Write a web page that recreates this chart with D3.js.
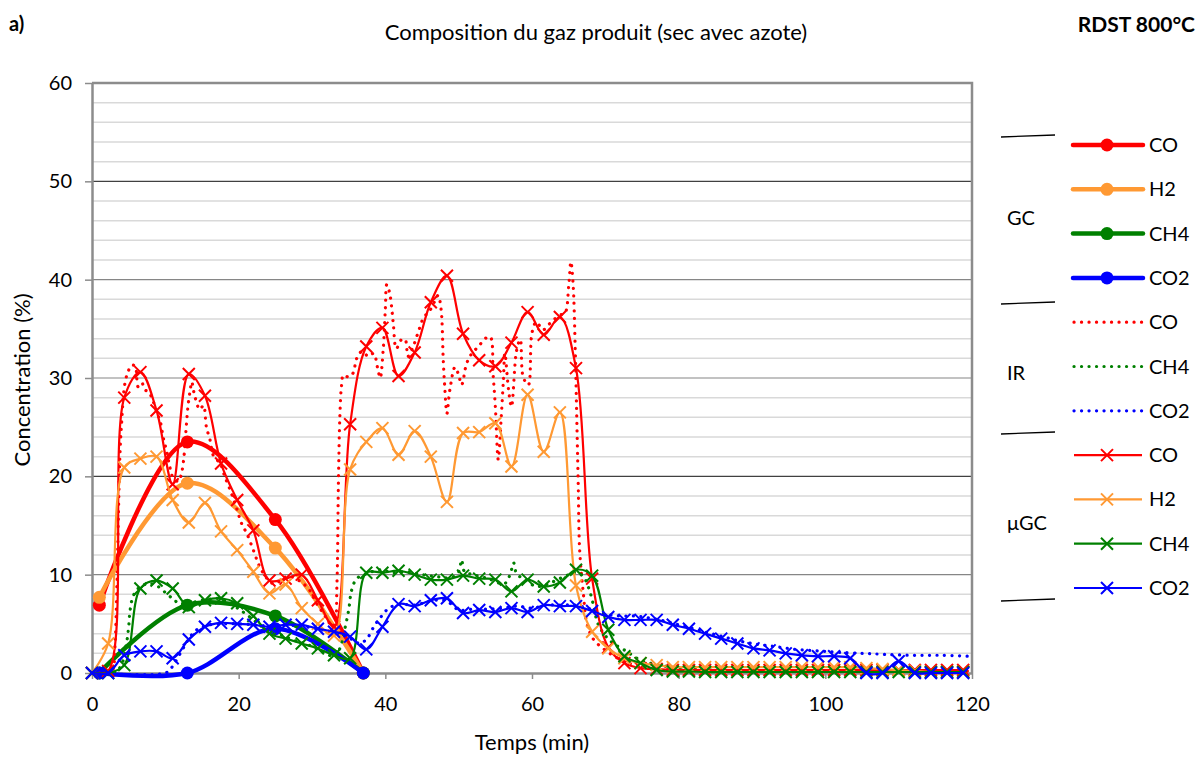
<!DOCTYPE html>
<html><head><meta charset="utf-8">
<script src="https://cdn.jsdelivr.net/npm/d3@7"></script>
<style>body{margin:0;background:#fff} text{font-family:Lato,'Open Sans',sans-serif;fill:#000}</style>
</head><body><svg id="c" width="1199" height="758"></svg>
<script>
// ---------- data ----------
const xTicks = [0, 20, 40, 60, 80, 100, 120];
const yTicks = [0, 10, 20, 30, 40, 50, 60];
const yMinor = [2,4,6,8,12,14,16,18,22,24,26,28,32,34,36,38,42,44,46,48,52,54,56,58];

// GC (thick lines, circles)
const gcTime = [1, 13, 25, 37];
const gcCO  = [6.9, 23.5, 15.6, 0];
const gcH2  = [7.7, 19.3, 12.7, 0];
const gcCH4 = [0, 6.9, 5.8, 0];
const gcCO2 = [0, 0, 4.5, 0];

// micro-GC (thin lines, x markers)
const muTime = [0,2.2,4.4,6.6,8.8,11,13.2,15.4,17.6,19.8,22,24.2,26.4,28.6,30.8,33,35.2,37.4,39.6,41.8,44,46.2,48.4,50.6,52.8,55,57.2,59.4,61.6,63.8,66,68.2,70.4,72.6,74.8,77,79.2,81.4,83.6,85.8,88,90.2,92.4,94.6,96.8,99,101.2,103.4,105.6,107.8,110,112.2,114.4,116.6,118.8];
const muCO  = [0,0.2,28.0,30.6,26.7,19.2,30.4,28.2,21.3,17.6,14.5,9.4,9.6,10.0,7.4,4.7,25.3,33.2,35.1,30.2,32.6,37.7,40.4,34.5,31.8,31.2,33.6,36.7,34.4,36.2,31.0,9.6,2.6,1.0,0.5,0.4,0.3,0.3,0.3,0.3,0.3,0.3,0.3,0.3,0.3,0.3,0.3,0.3,0.3,0.3,0.3,0.3,0.3,0.3,0.3];
const muH2  = [0,3.0,20.9,21.8,22.0,17.6,15.3,17.3,14.4,12.5,10.3,8.1,9.0,6.6,5.0,3.8,20.7,23.5,24.9,22.2,24.6,22.0,17.4,24.4,24.5,25.4,21.0,28.3,22.5,26.5,8.9,4.2,2.5,1.5,1.0,0.8,0.6,0.6,0.6,0.6,0.6,0.6,0.6,0.6,0.6,0.6,0.6,0.6,0.5,0.4,0.3,0.2,0.1,0.1,0.1];
const muCH4 = [0,0,0.8,8.6,9.4,8.6,6.7,7.4,7.6,7.1,5.8,4.0,3.5,3.0,2.5,1.8,1.5,10.2,10.2,10.4,10.0,9.5,9.5,9.9,9.6,9.5,8.3,9.5,8.8,9.2,10.5,9.9,4.4,1.7,1.0,0.3,0.15,0.15,0.1,0.1,0.1,0.1,0.1,0.1,0.1,0.1,0.1,0.1,0.1,0.1,0.1,0.1,0.1,0.1,0.1];
const muCO2 = [0,0,1.8,2.2,2.2,1.5,3.4,4.7,5.1,5.0,4.9,4.7,4.9,4.9,4.5,4.2,3.7,2.4,4.7,7.0,6.8,7.4,7.6,6.1,6.4,6.2,6.6,6.2,6.9,6.8,6.8,6.3,5.7,5.4,5.4,5.4,4.9,4.5,4.0,3.5,3.0,2.5,2.3,2.0,1.8,1.7,1.7,1.5,0,0,1.2,0,0,0,0];

// IR (dotted lines)
const irCOTime = [0,1,2,2.8,3.1,3.4,3.6,3.8,4.0,4.5,5.0,5.4,5.9,6.1,6.3,6.8,7.2,7.7,8.1,8.8,9.3,9.7,10.2,10.6,11.1,11.8,12.2,12.5,12.7,12.9,13.1,13.4,13.6,14.0,14.7,15.2,15.6,16.1,16.5,17.0,17.5,18.1,19.0,19.7,20.4,21.1,22,22.7,23.4,24.0,24.7,25.5,26.2,27,28,28.8,29.7,30.6,31.5,32.2,32.7,33.1,33.4,33.6,33.8,34.0,34.3,35.0,35.6,36.1,36.8,37.7,38.4,39.0,39.3,39.7,40.0,40.2,40.6,40.9,41.1,41.5,42.2,42.7,43.1,43.8,44.5,45.2,46.1,46.8,47.2,47.6,47.9,48.1,48.4,48.8,49.5,50.0,50.4,51.1,51.8,52.7,53.6,54.3,54.7,55.0,55.4,55.8,56.1,56.3,56.8,57.2,57.9,58.4,58.8,59.5,60.0,60.6,61.5,62.5,63.8,64.5,65.0,65.3,65.6,65.9,66.1,66.3,66.5,67.0,67.5,68.4,69.7,71,72.5,74,76,80,90,100,110,120];
const irCO     = [0,0,0,0.3,2.3,9,16,22,25,29.5,30.8,31.3,31.2,30,29.1,29.5,28.8,28.6,28.1,26.6,25.6,24,22.5,21,19.8,19.5,20.3,21.7,23.5,25.5,27.2,28.8,29.6,28.2,26.8,27.2,25,23.7,22.2,21.7,21.3,20,18.3,16.8,15.2,14.2,12.5,11.1,10.1,9.5,9.1,9.3,9.7,9.8,9.5,9.1,8.4,7.1,6.1,5.3,4.7,5,9,19.3,26.1,29,30.3,30.1,30.5,32,32.7,32.2,32.5,30.8,30,32.8,37,39.5,38.6,36.9,35.4,33,33.9,33.9,32.2,33.2,34.7,36.1,36.9,37.9,38.4,37,31.8,29.1,26.4,28.8,31.1,30.3,29.3,31.5,32.5,33.2,34,34.2,30.3,27.1,21.7,26,29.8,32.5,28.8,27.1,32.8,33.9,30.1,29.3,34.6,35.7,34.9,35.6,36.4,36.6,39.3,41.8,39.6,32.8,26.1,19.3,12.5,8.1,5,3.4,2.5,1.8,1.2,0.8,0.5,0.3,0.2,0.2,0.2,0.2];
const irCH4Time = [0,3,4,4.7,5.0,5.2,5.6,6.3,7.7,9,10.4,11.3,12,13,14,15,16,17,18,19,20,21,22,23,24,25,26,27,28,29,30,31,32,33,33.8,34.3,35,35.4,36.1,37.5,39.3,41,43,45,47,49,50,50.4,50.8,52,54,56.3,57.2,57.5,57.9,59,60.6,62,63.5,65,66,67,68,69,70,71.1,72.9,74.3,76.1,78,80,85,90,120];
const irCH4     = [0,0,0.8,3,4.7,6.4,7.8,8.6,9.1,8.8,7.9,7.4,6.8,6.8,7.2,7.4,7.5,7.6,7.4,7.1,6.5,6.0,5.4,4.8,4.3,4.0,3.8,3.5,3.2,3.0,2.7,2.3,2.0,1.6,2.5,3.9,6.4,8.4,9.6,10.1,10.5,10.2,10.3,10.0,9.8,9.7,10.3,11.5,10.3,10,9.6,9.1,10.5,11.2,10.1,9.5,8.8,9,9.5,10.0,10.2,9.8,8,5,3.8,3.0,2.2,1.5,1.0,0.7,0.5,0.3,0.2,0.2];
const irCO2Time = [0,10,10.8,11.5,12.5,13.5,14.5,16,18,20,22,24,26,28,30,32,34,35.5,36.5,37.5,38.5,39.5,40.5,42,44,46,48,49,50,52,54,56,58,60,62,64,66,68,70,72,74,76,78,80,82,84,86,88,90,92,94,96,98,100,102,105,108,112,116,120];
const irCO2     = [0,0,0.5,1.3,2.6,3.8,4.5,4.9,5.0,5.0,4.9,4.8,4.9,4.8,4.6,4.3,3.9,3.4,3.0,3.5,4.8,5.8,6.6,7.0,6.9,7.3,7.4,7.0,6.4,6.5,6.5,6.6,6.8,6.6,6.9,6.9,6.9,6.5,6.0,5.8,5.8,5.6,5.3,4.9,4.5,4.1,3.7,3.3,3.0,2.8,2.6,2.4,2.3,2.2,2.1,2.0,1.9,1.8,1.8,1.7];

const cRed = '#ff0000', cOrange = '#ff9933', cGreen = '#008000', cBlue = '#0000ff';
const FONT = "Lato,'Open Sans',sans-serif";

// ---------- chart ----------
const svg = d3.select('#c');
const x = d3.scaleLinear().domain([0, 120]).range([92, 972]);
const y = d3.scaleLinear().domain([0, 60]).range([673, 83]);

// minor gridlines
svg.append('g').selectAll('line').data(yMinor).join('line')
  .attr('x1', x(0)).attr('x2', x(120)).attr('y1', d => y(d)).attr('y2', d => y(d))
  .attr('stroke', '#d9d9d9').attr('stroke-width', 1.5);
// major gridlines
svg.append('g').selectAll('line').data(yTicks.filter(v => v > 0 && v < 60)).join('line')
  .attr('x1', x(0)).attr('x2', x(120)).attr('y1', d => y(d)).attr('y2', d => y(d))
  .attr('stroke', d => (d === 50 || d === 20) ? '#404040' : '#868686').attr('stroke-width', 1.2);
// plot border (top, right)
svg.append('path').attr('d', `M${x(0)},${y(60)}H${x(120)}V${y(0)}`)
  .attr('fill', 'none').attr('stroke', '#8c8c8c').attr('stroke-width', 2.5);

// axes
const yAxis = svg.append('g').attr('transform', `translate(${x(0)},0)`)
  .call(d3.axisLeft(y).tickValues(yTicks).tickSize(7).tickPadding(13).tickSizeOuter(0));
const xAxis = svg.append('g').attr('transform', `translate(0,${y(0)})`)
  .call(d3.axisBottom(x).tickValues(xTicks).tickSize(6).tickPadding(18).tickSizeOuter(0));
[xAxis, yAxis].forEach(a => {
  a.select('.domain').attr('stroke', '#8c8c8c').attr('stroke-width', 2.5);
  a.selectAll('.tick line').attr('stroke', '#8c8c8c').attr('stroke-width', 1.5);
  a.selectAll('.tick text').attr('font-size', 20).attr('font-family', FONT).attr('fill', '#000');
});

const curve = d3.curveCatmullRom.alpha(0.5);
const line = d3.line().x(d => x(d[0])).y(d => y(d[1])).curve(curve);
const plot = svg.append('g');

function gcSeries(vals, color) {
  const pts = d3.zip(gcTime, vals);
  plot.append('path').datum(pts).attr('d', line).attr('fill', 'none')
    .attr('stroke', color).attr('stroke-width', 4.5).attr('stroke-linejoin', 'round');
  plot.append('g').selectAll('circle').data(pts).join('circle')
    .attr('cx', d => x(d[0])).attr('cy', d => y(d[1])).attr('r', 6.5).attr('fill', color);
}
function irSeries(t, vals, color) {
  plot.append('path').datum(d3.zip(t, vals)).attr('d', line).attr('fill', 'none')
    .attr('stroke', color).attr('stroke-width', 3.2).attr('stroke-linecap', 'round')
    .attr('stroke-dasharray', '0.1 7.4');
}
const xMark = 'M-6,-6L6,6M-6,6L6,-6';
function muSeries(vals, color) {
  const pts = d3.zip(muTime, vals);
  plot.append('path').datum(pts).attr('d', line).attr('fill', 'none')
    .attr('stroke', color).attr('stroke-width', 2.2);
  plot.append('g').selectAll('path').data(pts).join('path')
    .attr('d', xMark).attr('transform', d => `translate(${x(d[0])},${y(d[1])})`)
    .attr('stroke', color).attr('stroke-width', 2).attr('fill', 'none');
}

gcSeries(gcCO, cRed); gcSeries(gcH2, cOrange); gcSeries(gcCH4, cGreen); gcSeries(gcCO2, cBlue);
irSeries(irCOTime, irCO, cRed); irSeries(irCH4Time, irCH4, cGreen); irSeries(irCO2Time, irCO2, cBlue);
muSeries(muCO, cRed); muSeries(muH2, cOrange); muSeries(muCH4, cGreen); muSeries(muCO2, cBlue);

// ---------- legend ----------
const legendItems = [
  {type:'gc', name:'CO', color:cRed}, {type:'gc', name:'H2', color:cOrange},
  {type:'gc', name:'CH4', color:cGreen}, {type:'gc', name:'CO2', color:cBlue},
  {type:'ir', name:'CO', color:cRed}, {type:'ir', name:'CH4', color:cGreen}, {type:'ir', name:'CO2', color:cBlue},
  {type:'mu', name:'CO', color:cRed}, {type:'mu', name:'H2', color:cOrange},
  {type:'mu', name:'CH4', color:cGreen}, {type:'mu', name:'CO2', color:cBlue}
];
const lg = svg.append('g');
legendItems.forEach((it, i) => {
  const ly = 145 + i * 44.3;
  const g = lg.append('g').attr('transform', `translate(0,${ly})`);
  if (it.type === 'gc') {
    g.append('line').attr('x1', 1073).attr('x2', 1143).attr('stroke', it.color).attr('stroke-width', 4.5).attr('stroke-linecap','round');
    g.append('circle').attr('cx', 1107).attr('r', 6.5).attr('fill', it.color);
  } else if (it.type === 'ir') {
    g.append('line').attr('x1', 1074).attr('x2', 1142).attr('stroke', it.color).attr('stroke-width', 3.2)
      .attr('stroke-linecap', 'round').attr('stroke-dasharray', '0.1 7.4');
  } else {
    g.append('line').attr('x1', 1074).attr('x2', 1142).attr('stroke', it.color).attr('stroke-width', 2.2);
    g.append('path').attr('d', xMark).attr('transform', 'translate(1107,0)').attr('stroke', it.color).attr('stroke-width', 2).attr('fill','none');
  }
  g.append('text').attr('x', 1149).attr('y', 7).attr('font-size', 20).text(it.name);
});
// group separators and labels
[136, 303, 433, 600].forEach(sy => {
  lg.append('line').attr('x1', 1001).attr('y1', sy + 1).attr('x2', 1055).attr('y2', sy - 1)
    .attr('stroke', '#000').attr('stroke-width', 1.3);
});
[['GC', 218], ['IR', 373], ['μGC', 523]].forEach(([t, cy]) => {
  lg.append('text').attr('x', 1007).attr('y', cy + 7).attr('font-size', 20).text(t);
});

// ---------- titles ----------
svg.append('text').attr('x', 596).attr('y', 40).attr('text-anchor', 'middle').attr('font-size', 22)
  .text('Composition du gaz produit (sec avec azote)');
svg.append('text').attr('x', 9).attr('y', 31).attr('font-size', 20).attr('font-weight', 'bold').text('a)');
svg.append('text').attr('x', 1195).attr('y', 32).attr('text-anchor', 'end').attr('font-size', 21).attr('font-weight', 'bold').text('RDST 800°C');
svg.append('text').attr('transform', 'translate(30,380) rotate(-90)').attr('text-anchor', 'middle').attr('font-size', 22)
  .text('Concentration (%)');
svg.append('text').attr('x', 532).attr('y', 750).attr('text-anchor', 'middle').attr('font-size', 22).text('Temps (min)');
</script></body></html>
